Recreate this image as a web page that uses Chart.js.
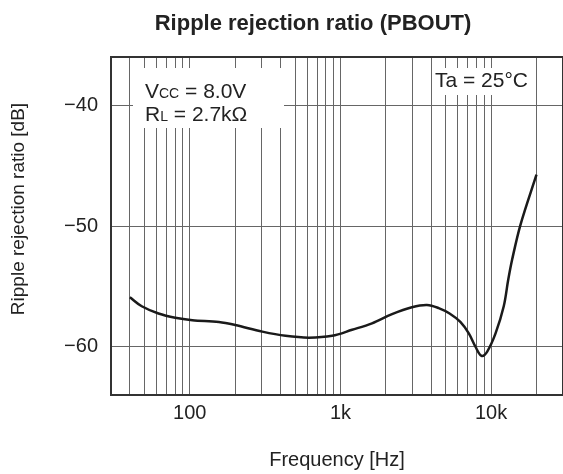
<!DOCTYPE html>
<html>
<head>
<meta charset="utf-8">
<script src="https://cdn.jsdelivr.net/npm/chart.js@4.4.1/dist/chart.umd.min.js"></script>
<style>
  html, body { margin: 0; padding: 0; background: #fff; }
  #wrap { width: 563px; height: 474px; position: relative; }
</style>
</head>
<body>
<div id="wrap"><canvas id="rippleChart"></canvas></div>
<script>
// curve (frequency in Hz, ripple rejection in dB)
const freqHz = [40, 48, 62, 80, 104, 156, 200, 303, 432, 617, 881, 1195, 1620, 2200,
    2980, 3750, 4490, 5300, 6250, 7110, 7870, 8630, 9420, 10700, 12130, 12970, 13780, 15660, 20000];
const rejectionDb = [-55.9, -56.65, -57.25, -57.6, -57.8, -57.95, -58.2, -58.75, -59.1, -59.25, -59.1, -58.6, -58.06, -57.3,
    -56.73, -56.54, -56.8, -57.25, -57.95, -58.9, -60.0, -60.75, -60.4, -58.9, -56.65, -54.5, -52.8, -49.9, -45.75];

const xLabelValues = [100, 1000, 10000];
const xLabelText = ['100', '1k', '10k'];
const yTicks = [-60, -50, -40];

// log grid: 1..9 x each decade, inside 30 .. 30k
const gridFreqs = [10, 100, 1000, 10000]
    .flatMap(d => [1, 2, 3, 4, 5, 6, 7, 8, 9].map(m => m * d))
    .filter(v => v >= 30 && v <= 30000);

const FONT = '"Liberation Sans", Arial, sans-serif';
const TEXT = '#222';
Chart.defaults.font.family = FONT;

const overlayText = {
    id: 'overlayText',
    beforeDatasetsDraw(chart) {
        const ctx = chart.ctx;
        ctx.save();
        // white boxes over the grid
        ctx.fillStyle = '#fff';
        ctx.fillRect(133, 68, 151, 60);
        ctx.fillRect(433, 68, 103, 27);

        ctx.fillStyle = TEXT;
        ctx.textBaseline = 'alphabetic';
        ctx.textAlign = 'left';
        const big = '21px ' + FONT;
        const small = '14px ' + FONT;
        const runs = (x, y, parts) => {
            parts.forEach(([txt, f]) => {
                ctx.font = f;
                ctx.fillText(txt, x, y);
                x += ctx.measureText(txt).width;
            });
        };
        runs(145, 98, [['V', big], ['CC', small], [' = 8.0V', big]]);
        runs(145, 121, [['R', big], ['L', small], [' = 2.7kΩ', big]]);
        runs(435, 87, [['Ta = 25°C', big]]);
        ctx.restore();
    },
    afterDraw(chart) {
        const ctx = chart.ctx;
        const a = chart.chartArea;
        ctx.save();
        ctx.strokeStyle = '#333';
        ctx.lineWidth = 2;
        ctx.strokeRect(a.left, a.top, a.right - a.left, a.bottom - a.top);

        ctx.fillStyle = TEXT;
        ctx.font = 'bold 22px ' + FONT;
        ctx.textAlign = 'center';
        ctx.textBaseline = 'alphabetic';
        ctx.fillText('Ripple rejection ratio (PBOUT)', 313, 30);

        ctx.font = '19px ' + FONT;
        ctx.translate(24, 209);
        ctx.rotate(-Math.PI / 2);
        ctx.fillText('Ripple rejection ratio [dB]', 0, 0);
        ctx.restore();
    }
};

new Chart(document.getElementById('rippleChart'), {
    type: 'line',
    data: {
        datasets: [{
            data: freqHz.map((f, i) => ({ x: f, y: rejectionDb[i] })),
            borderColor: '#1a1a1a',
            borderWidth: 2.5,
            pointRadius: 0,
            fill: false,
            tension: 0.35
        }]
    },
    options: {
        responsive: true,
        maintainAspectRatio: false,
        animation: false,
        layout: { padding: { top: 57, right: -2, bottom: 0, left: 0 } },
        plugins: { legend: { display: false }, tooltip: { enabled: false } },
        scales: {
            x: {
                type: 'logarithmic',
                min: 30,
                max: 30000,
                afterBuildTicks: s => { s.ticks = gridFreqs.map(v => ({ value: v })); },
                afterFit: s => {
                    s.height = 79;
                    s.paddingLeft = 0;
                    s.paddingRight = 0;
                },
                ticks: {
                    autoSkip: false,
                    maxRotation: 0,
                    padding: 6,
                    color: TEXT,
                    font: { size: 20 },
                    callback: v => {
                        const i = xLabelValues.indexOf(v);
                        return i >= 0 ? xLabelText[i] : '';
                    }
                },
                grid: { color: '#666', lineWidth: 1, drawTicks: false },
                border: { display: false },
                title: {
                    display: true,
                    text: 'Frequency [Hz]',
                    color: TEXT,
                    font: { size: 20 },
                    padding: { top: 0, bottom: 2 }
                }
            },
            y: {
                min: -64,
                max: -36,
                afterBuildTicks: s => { s.ticks = yTicks.map(v => ({ value: v })); },
                afterFit: s => {
                    s.width = 111;
                    s.paddingTop = 0;
                    s.paddingBottom = 0;
                },
                ticks: {
                    padding: 13,
                    color: TEXT,
                    font: { size: 20 },
                    callback: v => '\u2212' + Math.abs(v)
                },
                grid: { color: '#666', lineWidth: 1, drawTicks: false },
                border: { display: false }
            }
        }
    },
    plugins: [overlayText]
});
</script>
</body>
</html>
